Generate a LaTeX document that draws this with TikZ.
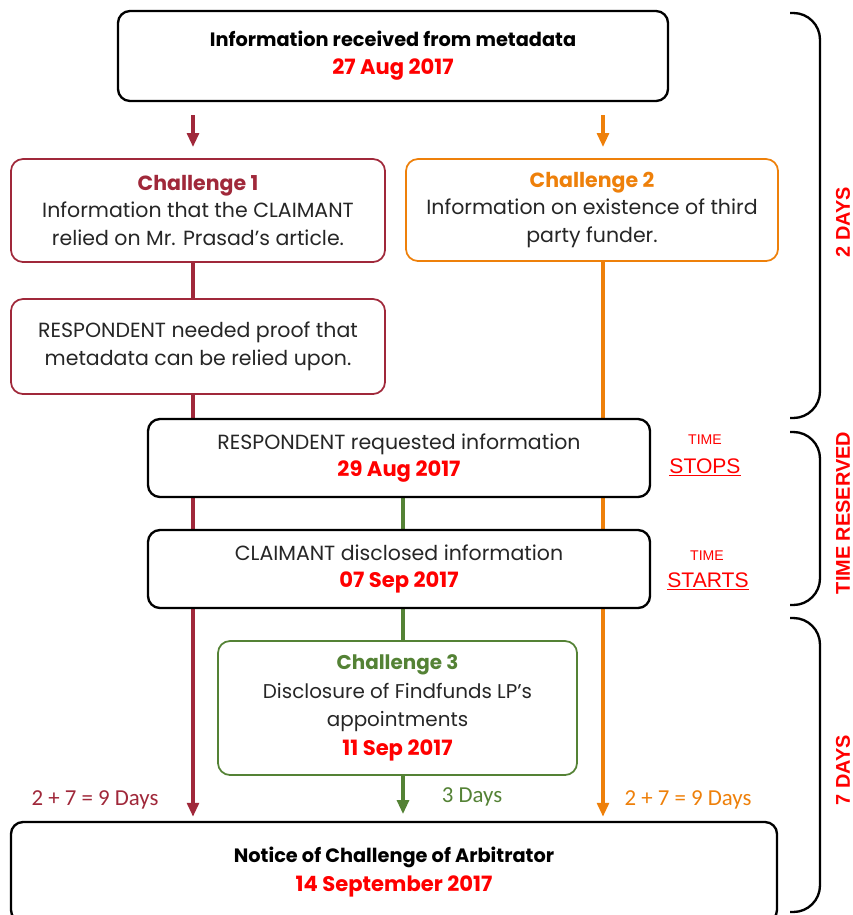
\documentclass[tikz,border=0pt]{standalone}
\usepackage{fontspec}
\setmainfont{Poppins}
\newfontfamily\daysfont{Carlito}
\newfontfamily\arialfont{Liberation Sans}
\usetikzlibrary{arrows.meta, backgrounds, calc}

\definecolor{chmaroon}{RGB}{160,40,58}
\definecolor{chorange}{RGB}{238,128,10}
\definecolor{chgreen}{RGB}{84,130,53}
\definecolor{datered}{RGB}{255,0,0}
\definecolor{bodygray}{RGB}{38,38,38}

\newcommand\evdate[1]{{\bfseries\fontsize{18}{22}\selectfont\color{datered}#1}}
\newcommand\chtitle[2]{{\bfseries\color{#1}#2}}

\tikzset{
	evbox/.style={draw=black, line width=2pt, rounded corners=0.36cm, fill=white, align=center, inner sep=0pt, text=bodygray, font=\fontsize{17.5}{23.5}\selectfont},
	chbox/.style={evbox, line width=1.5pt},
	headbox/.style={evbox, text=black, font=\bfseries\fontsize{16.5}{24}\selectfont},
	flow/.style={line width=3pt},
	tip/.style={-{Triangle[length=12pt,width=10pt]}},
	sidelabel/.style={font=\arialfont\bfseries\fontsize{17}{20}\selectfont, text=datered, rotate=90},
	daylabel/.style={font=\daysfont\fontsize{19.5}{22}\selectfont},
	timenote/.style={font=\arialfont\fontsize{12}{14}\selectfont, text=datered},
	timeword/.style={font=\arialfont\fontsize{18}{20}\selectfont, text=datered},
	brace/.style={line width=2pt, rounded corners=0.8cm},
}

\begin{document}
\begin{tikzpicture}[x=0.03cm, y=-0.03cm]
	\useasboundingbox (0,0) rectangle (853,915);
%	\draw[help lines] (0,0) grid[step=50] (853,915);

	% columns of the three threads
	\coordinate (colA) at (193,0);
	\coordinate (colB) at (603,0);
	\coordinate (colC) at (403,0);

	\node[headbox, minimum width=16.5cm, minimum height=2.7cm] (top) at (393,56)
		{Information received from metadata\\\evdate{27 Aug 2017}};

	\node[chbox, draw=chmaroon, minimum width=11.22cm, minimum height=3.09cm] (ch1) at (198,210.5)
		{\chtitle{chmaroon}{Challenge 1}\\Information that the CLAIMANT\\relied on Mr. Prasad’s article.};
	\node[chbox, draw=chorange, minimum width=11.16cm, minimum height=3.06cm] (ch2) at (592,210)
		{\chtitle{chorange}{Challenge 2}\\Information on existence of third\\party funder.};
	\node[chbox, draw=chmaroon, minimum width=11.22cm, minimum height=2.85cm] (proof) at (198,346.5)
		{RESPONDENT needed proof that\\metadata can be relied upon.};

	\node[evbox, minimum width=15.06cm, minimum height=2.34cm] (req) at (399,458)
		{RESPONDENT requested information\\\evdate{29 Aug 2017}};
	\node[evbox, minimum width=15.06cm, minimum height=2.34cm] (disc) at (399,569)
		{CLAIMANT disclosed information\\\evdate{07 Sep 2017}};

	\node[chbox, draw=chgreen, minimum width=10.77cm, minimum height=4.02cm, font=\fontsize{17}{24.5}\selectfont] (ch3) at (397.5,708)
		{\chtitle{chgreen}{Challenge 3}\\Disclosure of Findfunds LP’s\\appointments\\\evdate{11 Sep 2017}};

	\node[headbox, minimum width=22.98cm, minimum height=3cm, font=\bfseries\fontsize{16.5}{25}\selectfont] (bot) at (394,872)
		{Notice of Challenge of Arbitrator\\\evdate{14 September 2017}};

	%threads
	\begin{scope}[on background layer]
		\draw[flow, chmaroon, tip, shorten <=0.39cm, shorten >=0.33cm] (top.south -| colA) -- (ch1.north -| colA);
		\draw[flow, chorange, tip, shorten <=0.39cm, shorten >=0.33cm] (top.south -| colB) -- (ch2.north -| colB);
		\draw[flow, chmaroon] (ch1.south -| colA) -- (proof.north -| colA);
		\draw[flow, chmaroon, tip, shorten >=0.12cm] (proof.south -| colA) -- (bot.north -| colA);
		\draw[flow, chorange, tip, shorten >=0.12cm] (ch2.south -| colB) -- (bot.north -| colB);
		\draw[flow, chgreen] (req.south -| colC) -- (ch3.north -| colC);
		\draw[flow, chgreen, tip, shorten >=0.2cm] (ch3.south -| colC) -- (bot.north -| colC);
	\end{scope}

	\node[daylabel, text=chmaroon] (dA) at (95,800) {2 + 7 = 9 Days};
	\node[daylabel, text=chgreen] (dC) at (472,797) {3 Days};
	\node[daylabel, text=chorange] (dB) at (688,800) {2 + 7 = 9 Days};

	\node[timenote] (tstop) at (705,440) {TIME};
	\node[timeword] (stops) at (705,467) {\underline{STOPS}};
	\node[timenote] (tstart) at (707,556) {TIME};
	\node[timeword] (starts) at (708,581) {\underline{STARTS}};

	%braces
	\draw[brace] (790,13) -- (820,13) -- (820,418) -- (790,418);
	\draw[brace] (790,432) -- (820,432) -- (820,605) -- (790,605);
	\draw[brace] (790,618) -- (820,618) -- (820,912) -- (790,912);

	\node[sidelabel] (twodays) at (843,222) {2 DAYS};
	\node[sidelabel] (reserved) at (843,513) {TIME RESERVED};
	\node[sidelabel] (sevendays) at (843,770) {7 DAYS};
\end{tikzpicture}
\end{document}
